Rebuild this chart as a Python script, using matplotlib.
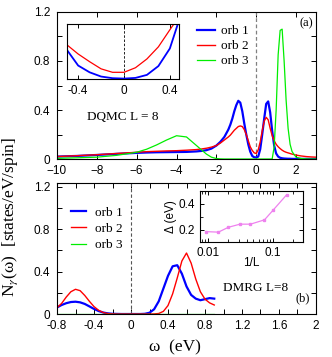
import numpy as np
import matplotlib.pyplot as plt
from matplotlib.ticker import MultipleLocator

plt.rcParams['font.family'] = ['Liberation Sans', 'DejaVu Sans']
plt.rcParams['mathtext.fontset'] = 'stix'
plt.rcParams['xtick.direction'] = 'in'
plt.rcParams['ytick.direction'] = 'in'
plt.rcParams['xtick.top'] = True
plt.rcParams['ytick.right'] = True

serif = ['Liberation Serif', 'DejaVu Serif']

# panel (a): DQMC spectral functions
w_a = [-10, -9, -8, -7, -6, -5.5, -5, -4.5, -4, -3.5, -3, -2.75, -2.5, -2.25, -2,
       -1.8, -1.6, -1.4, -1.3, -1.2, -1.1, -1.0, -0.9, -0.8, -0.7, -0.6, -0.5, -0.4,
       -0.3, -0.2, -0.1, 0, 0.1, 0.2, 0.3, 0.4, 0.5, 0.6, 0.7, 0.8, 0.9, 1.0, 1.1,
       1.2, 1.3, 1.4, 1.5, 1.6, 1.7, 1.8, 2.0, 2.25, 2.5, 2.75, 3.0]
orb1_a = [0.02, 0.025, 0.033, 0.042, 0.05, 0.053, 0.055, 0.056, 0.057, 0.058, 0.062,
          0.066, 0.072, 0.085, 0.11, 0.14, 0.18, 0.24, 0.28, 0.33, 0.39, 0.44, 0.475,
          0.46, 0.39, 0.29, 0.2, 0.12, 0.06, 0.025, 0.014, 0.012, 0.02, 0.08, 0.2,
          0.33, 0.45, 0.47, 0.38, 0.23, 0.11, 0.045, 0.02, 0.01, 0.006, 0.004, 0.003,
          0.002, 0.002, 0.001, 0.001, 0.001, 0.001, 0.001, 0.001]
orb2_a = [0.02, 0.027, 0.035, 0.045, 0.055, 0.06, 0.063, 0.066, 0.068, 0.072, 0.077,
          0.082, 0.088, 0.097, 0.11, 0.13, 0.155, 0.18, 0.195, 0.215, 0.235, 0.25,
          0.265, 0.27, 0.265, 0.24, 0.2, 0.15, 0.1, 0.07, 0.05, 0.045, 0.075, 0.14,
          0.23, 0.31, 0.34, 0.32, 0.25, 0.19, 0.15, 0.12, 0.1, 0.085, 0.072, 0.062,
          0.055, 0.05, 0.045, 0.04, 0.032, 0.025, 0.02, 0.017, 0.015]
orb3_a = [0.005, 0.01, 0.015, 0.03, 0.055, 0.08, 0.115, 0.155, 0.19, 0.18, 0.11,
          0.075, 0.04, 0.015, 0.004, 0.001, 0, 0, 0, 0, 0, 0, 0, 0, 0, 0, 0, 0, 0,
          0, 0, 0, 0, 0, 0, 0, 0, 0, 0, 0, 0.1, 0.4, 0.85, 1.05, 1.06, 0.8, 0.48,
          0.25, 0.12, 0.06, 0.015, 0.004, 0.001, 0, 0]

# inset of (a): zoom near the Fermi level
w_ins = [-0.5, -0.4, -0.3, -0.2, -0.1, 0, 0.1, 0.2, 0.3, 0.4, 0.5]
orb1_ins = [0.54, 0.25, 0.127, 0.05, 0.02, 0.013, 0.025, 0.08, 0.24, 0.56, 1.2]
orb2_ins = [0.63, 0.46, 0.32, 0.19, 0.127, 0.127, 0.21, 0.37, 0.59, 0.9, 1.2]

# panel (b): DMRG spectral functions
w_b = [-0.8, -0.75, -0.7, -0.65, -0.6, -0.55, -0.5, -0.45, -0.4, -0.35, -0.3, -0.25,
       -0.2, -0.15, -0.1, -0.05, 0, 0.05, 0.1, 0.15, 0.2, 0.25, 0.3, 0.35, 0.4,
       0.45, 0.5, 0.55, 0.6, 0.65, 0.7, 0.75, 0.8, 0.85, 0.9]
orb1_b = [0.062, 0.085, 0.102, 0.113, 0.116, 0.11, 0.095, 0.072, 0.048, 0.028,
          0.014, 0.006, 0.002, 0.001, 0, 0, 0, 0, 0, 0.002, 0.012, 0.045, 0.12,
          0.24, 0.36, 0.45, 0.46, 0.38, 0.26, 0.18, 0.145, 0.13, 0.14, 0.15, 0.145]
orb2_b = [0.06, 0.1, 0.16, 0.21, 0.233, 0.22, 0.175, 0.12, 0.07, 0.035, 0.014,
          0.004, 0.001, 0, 0, 0, 0, 0, 0, 0, 0, 0.001, 0.005, 0.025, 0.08, 0.19,
          0.34, 0.5, 0.575, 0.48, 0.33, 0.21, 0.14, 0.105, 0.085]
orb3_b = [0.0] * len(w_b)

# inset of (b): gap vs 1/L
invL = [0.0092, 0.0144, 0.0205, 0.031, 0.045, 0.074, 0.1, 0.162]
gap = [0.187, 0.183, 0.22, 0.244, 0.244, 0.277, 0.35, 0.468]

labels = ['orb 1', 'orb 2', 'orb 3']

fig = plt.figure(figsize=(3.32, 3.57), dpi=100)

# ---- (a)
ax1 = fig.add_axes([0.1717, 0.5546, 0.7801, 0.4118])
ax1.axvline(0, color='gray', ls='--', lw=0.9, dashes=(3, 2))
ax1.plot(w_a, orb1_a, color='#0000ff', lw=1.6, label=labels[0])
ax1.plot(w_a, orb2_a, color='#ff0000', lw=1.0, label=labels[1])
ax1.plot(w_a, orb3_a, color='#00ee00', lw=0.9, label=labels[2])
ax1.set_xlim(-10, 3)
ax1.set_ylim(0, 1.2)
ax1.set_xticks([-10, -8, -6, -4, -2, 0, 2])
ax1.set_yticks([0, 0.4, 0.8, 1.2])
ax1.set_yticklabels(['0', '0.4', '0.8', '1.2'])
ax1.yaxis.set_minor_locator(MultipleLocator(0.2))
ax1.tick_params(labelsize=8.5, length=3.5, width=0.7)
ax1.tick_params(axis='x', pad=4.5)
ax1.tick_params(axis='y', pad=5)
ax1.tick_params(which='minor', length=3.5, width=0.7)
ax1.legend(loc='upper left', bbox_to_anchor=(0.515, 0.955), frameon=False,
           prop={'family': serif, 'size': 9.5}, handlelength=1.4,
           handletextpad=0.4, labelspacing=0.2, borderpad=0)
ax1.text(0.116, 0.286, 'DQMC L = 8', transform=ax1.transAxes, family=serif,
         fontsize=9.5, va='center', ha='left')
ax1.text(0.988, 0.925, '(a)', transform=ax1.transAxes, family=serif,
         fontsize=9, va='center', ha='right')

# inset (a)
axi = fig.add_axes([0.2009, 0.7779, 0.3383, 0.154])
axi.axvline(0, color='black', ls='--', lw=0.6, dashes=(3, 2))
axi.plot(w_ins, orb1_ins, color='#0000ff', lw=1.3)
axi.plot(w_ins, orb2_ins, color='#ff0000', lw=0.9)
axi.set_xlim(-0.5, 0.48)
axi.set_ylim(0, 1)
axi.set_xticks([-0.4, 0, 0.4])
axi.set_xticklabels(['-0.4', '0', '0.4'])
axi.set_yticks([])
axi.tick_params(labelsize=8.5, length=3, width=0.7, pad=4)

# ---- (b)
ax2 = fig.add_axes([0.1717, 0.1204, 0.7801, 0.367])
ax2.axvline(0, color='#555555', ls='--', lw=0.8, dashes=(3, 2))
ax2.plot(w_b, orb1_b, color='#0000ff', lw=1.6, label=labels[0])
ax2.plot(w_b, orb2_b, color='#ff0000', lw=1.0, label=labels[1])
ax2.plot(w_b, orb3_b, color='#00ee00', lw=0.9, label=labels[2])
ax2.set_xlim(-0.8, 2)
ax2.set_ylim(0, 1.235)
ax2.set_xticks([-0.8, -0.4, 0, 0.4, 0.8, 1.2, 1.6, 2])
ax2.set_xticklabels(['-0.8', '-0.4', '0', '0.4', '0.8', '1.2', '1.6', '2'])
ax2.set_yticks([0, 0.4, 0.8, 1.2])
ax2.set_yticklabels(['0', '0.4', '0.8', '1.2'])
ax2.xaxis.set_minor_locator(MultipleLocator(0.2))
ax2.yaxis.set_minor_locator(MultipleLocator(0.2))
ax2.tick_params(labelsize=8.5, length=3.5, width=0.7)
ax2.tick_params(axis='x', pad=4.5)
ax2.tick_params(axis='y', pad=5)
ax2.tick_params(which='minor', length=3.5, width=0.7)
ax2.legend(loc='upper left', bbox_to_anchor=(0.03, 0.87), frameon=False,
           prop={'family': serif, 'size': 9.5}, handlelength=1.1,
           handletextpad=0.7, labelspacing=0.3, borderpad=0)
ax2.text(0.641, 0.198, 'DMRG L=8', transform=ax2.transAxes, family=serif,
         fontsize=9.5, va='center', ha='left')
ax2.text(0.977, 0.122, '(b)', transform=ax2.transAxes, family=serif,
         fontsize=9, va='center', ha='right')

# inset (b)
axg = fig.add_axes([0.6024, 0.323, 0.3102, 0.1429])
axg.plot(invL, gap, color='violet', lw=0.9, marker='s', ms=2)
axg.set_xscale('log')
axg.set_xlim(0.0075, 0.29)
axg.set_ylim(0.11, 0.5)
axg.set_xticks([0.01, 0.1])
axg.set_xticklabels(['0.01', '0.1'])
axg.set_yticks([0.2, 0.4])
axg.set_yticklabels(['0.2', '0.4'])
axg.yaxis.set_minor_locator(MultipleLocator(0.1))
axg.tick_params(labelsize=8.5, length=3, width=0.7)
axg.tick_params(which='minor', length=2, width=0.6)
axg.set_xlabel('1/L', fontsize=8.5, labelpad=-1)
axg.set_ylabel('Δ (eV)', fontsize=8.5, labelpad=1)

for a in (ax1, axi, ax2, axg):
    for s in a.spines.values():
        s.set_linewidth(0.8)

fig.text(0.03, 0.392, 'N$_\\gamma$(ω)  [states/eV/spin]', rotation=90,
         family=serif, fontsize=12.5, ha='center', va='center')
fig.text(0.527, 0.028, 'ω  (eV)', family=serif, fontsize=12.5,
         ha='center', va='center')

fig.savefig('out.png', dpi=100)
